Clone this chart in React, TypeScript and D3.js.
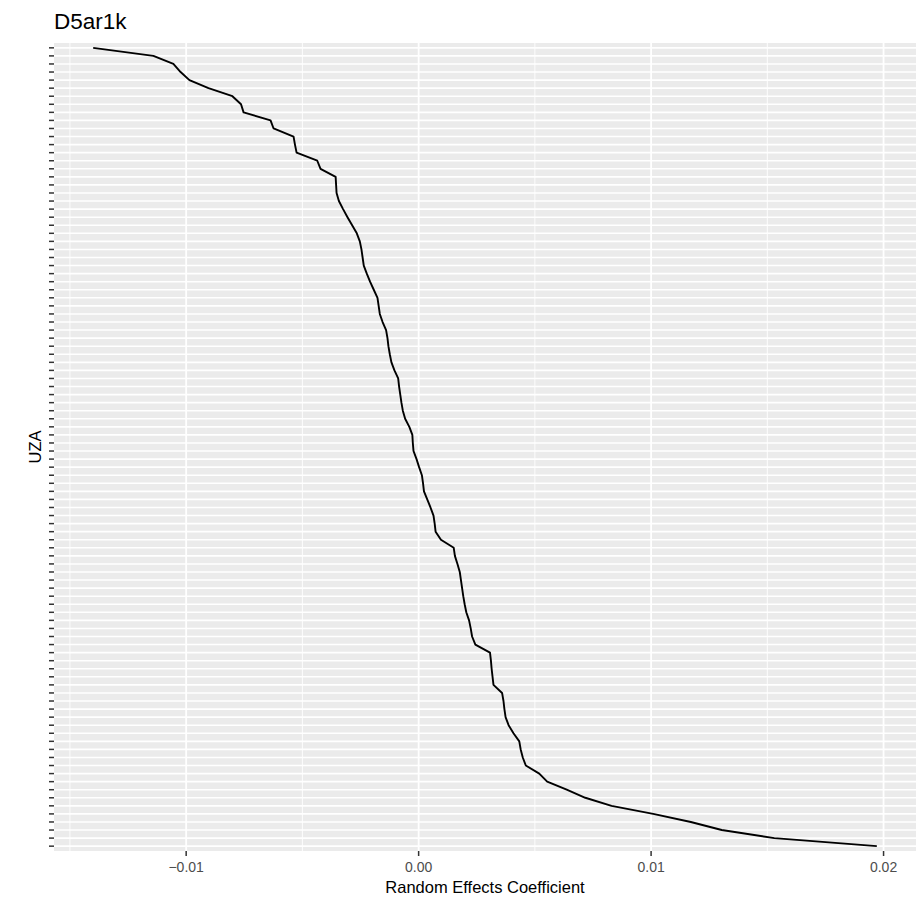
import React from "react";
import * as d3 from "d3";

const chartTitle = "D5ar1k";
const xTitle = "Random Effects Coefficient";
const yTitle = "UZA";

// Random effects coefficients, ordered from top of the chart to bottom
const coefficients: number[] = [
  -0.014, -0.01141, -0.01055, -0.01024, -0.00986, -0.00904, -0.00801, -0.00764, -0.00753, -0.00637,
  -0.00624, -0.00538, -0.00532, -0.00525, -0.00436, -0.00422, -0.00357, -0.00355, -0.00353, -0.00343,
  -0.00325, -0.00306, -0.00286, -0.00266, -0.00253, -0.00246, -0.00241, -0.00236, -0.00223, -0.00209,
  -0.00193, -0.00177, -0.00172, -0.00167, -0.00155, -0.0014, -0.00134, -0.0013, -0.00124, -0.00117,
  -0.00104, -0.00088, -0.00084, -0.00079, -0.00074, -0.00068, -0.00058, -0.0004, -0.00027, -0.00025,
  -0.00022, -0.00009, 0.00002, 0.00014, 0.00019, 0.00023, 0.00037, 0.00051, 0.00064, 0.00069,
  0.00073, 0.00096, 0.00151, 0.00156, 0.00167, 0.00177, 0.00182, 0.00187, 0.00192, 0.00198,
  0.00205, 0.00217, 0.00224, 0.0023, 0.00244, 0.00307, 0.00311, 0.00314, 0.00318, 0.00322,
  0.00359, 0.00365, 0.00369, 0.00374, 0.00387, 0.00408, 0.00433, 0.00439, 0.00448, 0.00461,
  0.00519, 0.00553, 0.00637, 0.00717, 0.0083, 0.01009, 0.01171, 0.01304, 0.0153, 0.01971,
];

// UZA categories (labels are not displayed in the chart)
const uzas: string[] = coefficients.map((_, i) => `UZA ${i + 1}`);

const xTicks = [-0.01, 0.0, 0.01, 0.02];
const xTickLabels = ["-0.01", "0.00", "0.01", "0.02"];
const xMinorTicks = [-0.015, -0.005, 0.005, 0.015];

const W = 923;
const H = 905;
const panel = { left: 54, right: 916, top: 43, bottom: 851 };

export default function App() {
  const ext = d3.extent(coefficients) as [number, number];
  const pad = (ext[1] - ext[0]) * 0.05;
  const x = d3
    .scaleLinear()
    .domain([ext[0] - pad, ext[1] + pad])
    .range([panel.left, panel.right]);
  const y = d3
    .scalePoint<string>()
    .domain(uzas)
    .range([panel.top, panel.bottom])
    .padding(0.6);

  const line = d3
    .line<number>()
    .x((d) => x(d))
    .y((_, i) => y(uzas[i]) as number);

  const font = "'Liberation Sans', Arial, Helvetica, sans-serif";
  const cx = (panel.left + panel.right) / 2;
  const cy = (panel.top + panel.bottom) / 2;

  return (
    <svg
      width={W}
      height={H}
      style={{ position: "absolute", left: 0, top: 0, background: "#fff" }}
      fontFamily={font}
    >
      <rect
        x={panel.left}
        y={panel.top}
        width={panel.right - panel.left}
        height={panel.bottom - panel.top}
        fill="#EBEBEB"
      />
      {xMinorTicks.map((t) => (
        <line
          key={"mn" + t}
          x1={x(t)}
          x2={x(t)}
          y1={panel.top}
          y2={panel.bottom}
          stroke="#fff"
          strokeWidth={0.9}
        />
      ))}
      {uzas.map((u) => (
        <line
          key={"hg" + u}
          x1={panel.left}
          x2={panel.right}
          y1={y(u)}
          y2={y(u)}
          stroke="#fff"
          strokeWidth={1.6}
        />
      ))}
      {xTicks.map((t) => (
        <line
          key={"mj" + t}
          x1={x(t)}
          x2={x(t)}
          y1={panel.top}
          y2={panel.bottom}
          stroke="#fff"
          strokeWidth={1.8}
        />
      ))}
      <path
        d={line(coefficients) || ""}
        fill="none"
        stroke="#000"
        strokeWidth={1.9}
        strokeLinejoin="round"
      />
      {/* y ticks */}
      {uzas.map((u) => (
        <line
          key={"yt" + u}
          x1={panel.left - 5}
          x2={panel.left}
          y1={y(u)}
          y2={y(u)}
          stroke="#333"
          strokeWidth={1.5}
        />
      ))}
      {/* x ticks */}
      {xTicks.map((t, i) => (
        <g key={"xt" + t}>
          <line
            x1={x(t)}
            x2={x(t)}
            y1={panel.bottom}
            y2={panel.bottom + 5}
            stroke="#333"
            strokeWidth={1.5}
          />
          <text
            x={x(t)}
            y={872}
            textAnchor="middle"
            fontSize={14}
            fill="#4D4D4D"
          >
            {xTickLabels[i].replace("-", "\u2212")}
          </text>
        </g>
      ))}
      <text x={cx} y={893} textAnchor="middle" fontSize={16.5} fill="#000">
        {xTitle}
      </text>
      <text
        transform={`translate(41,${cy}) rotate(-90)`}
        textAnchor="middle"
        fontSize={16.5}
        fill="#000"
      >
        {yTitle}
      </text>
      <text x={panel.left} y={29} fontSize={22.5} fill="#000">
        {chartTitle}
      </text>
    </svg>
  );
}
